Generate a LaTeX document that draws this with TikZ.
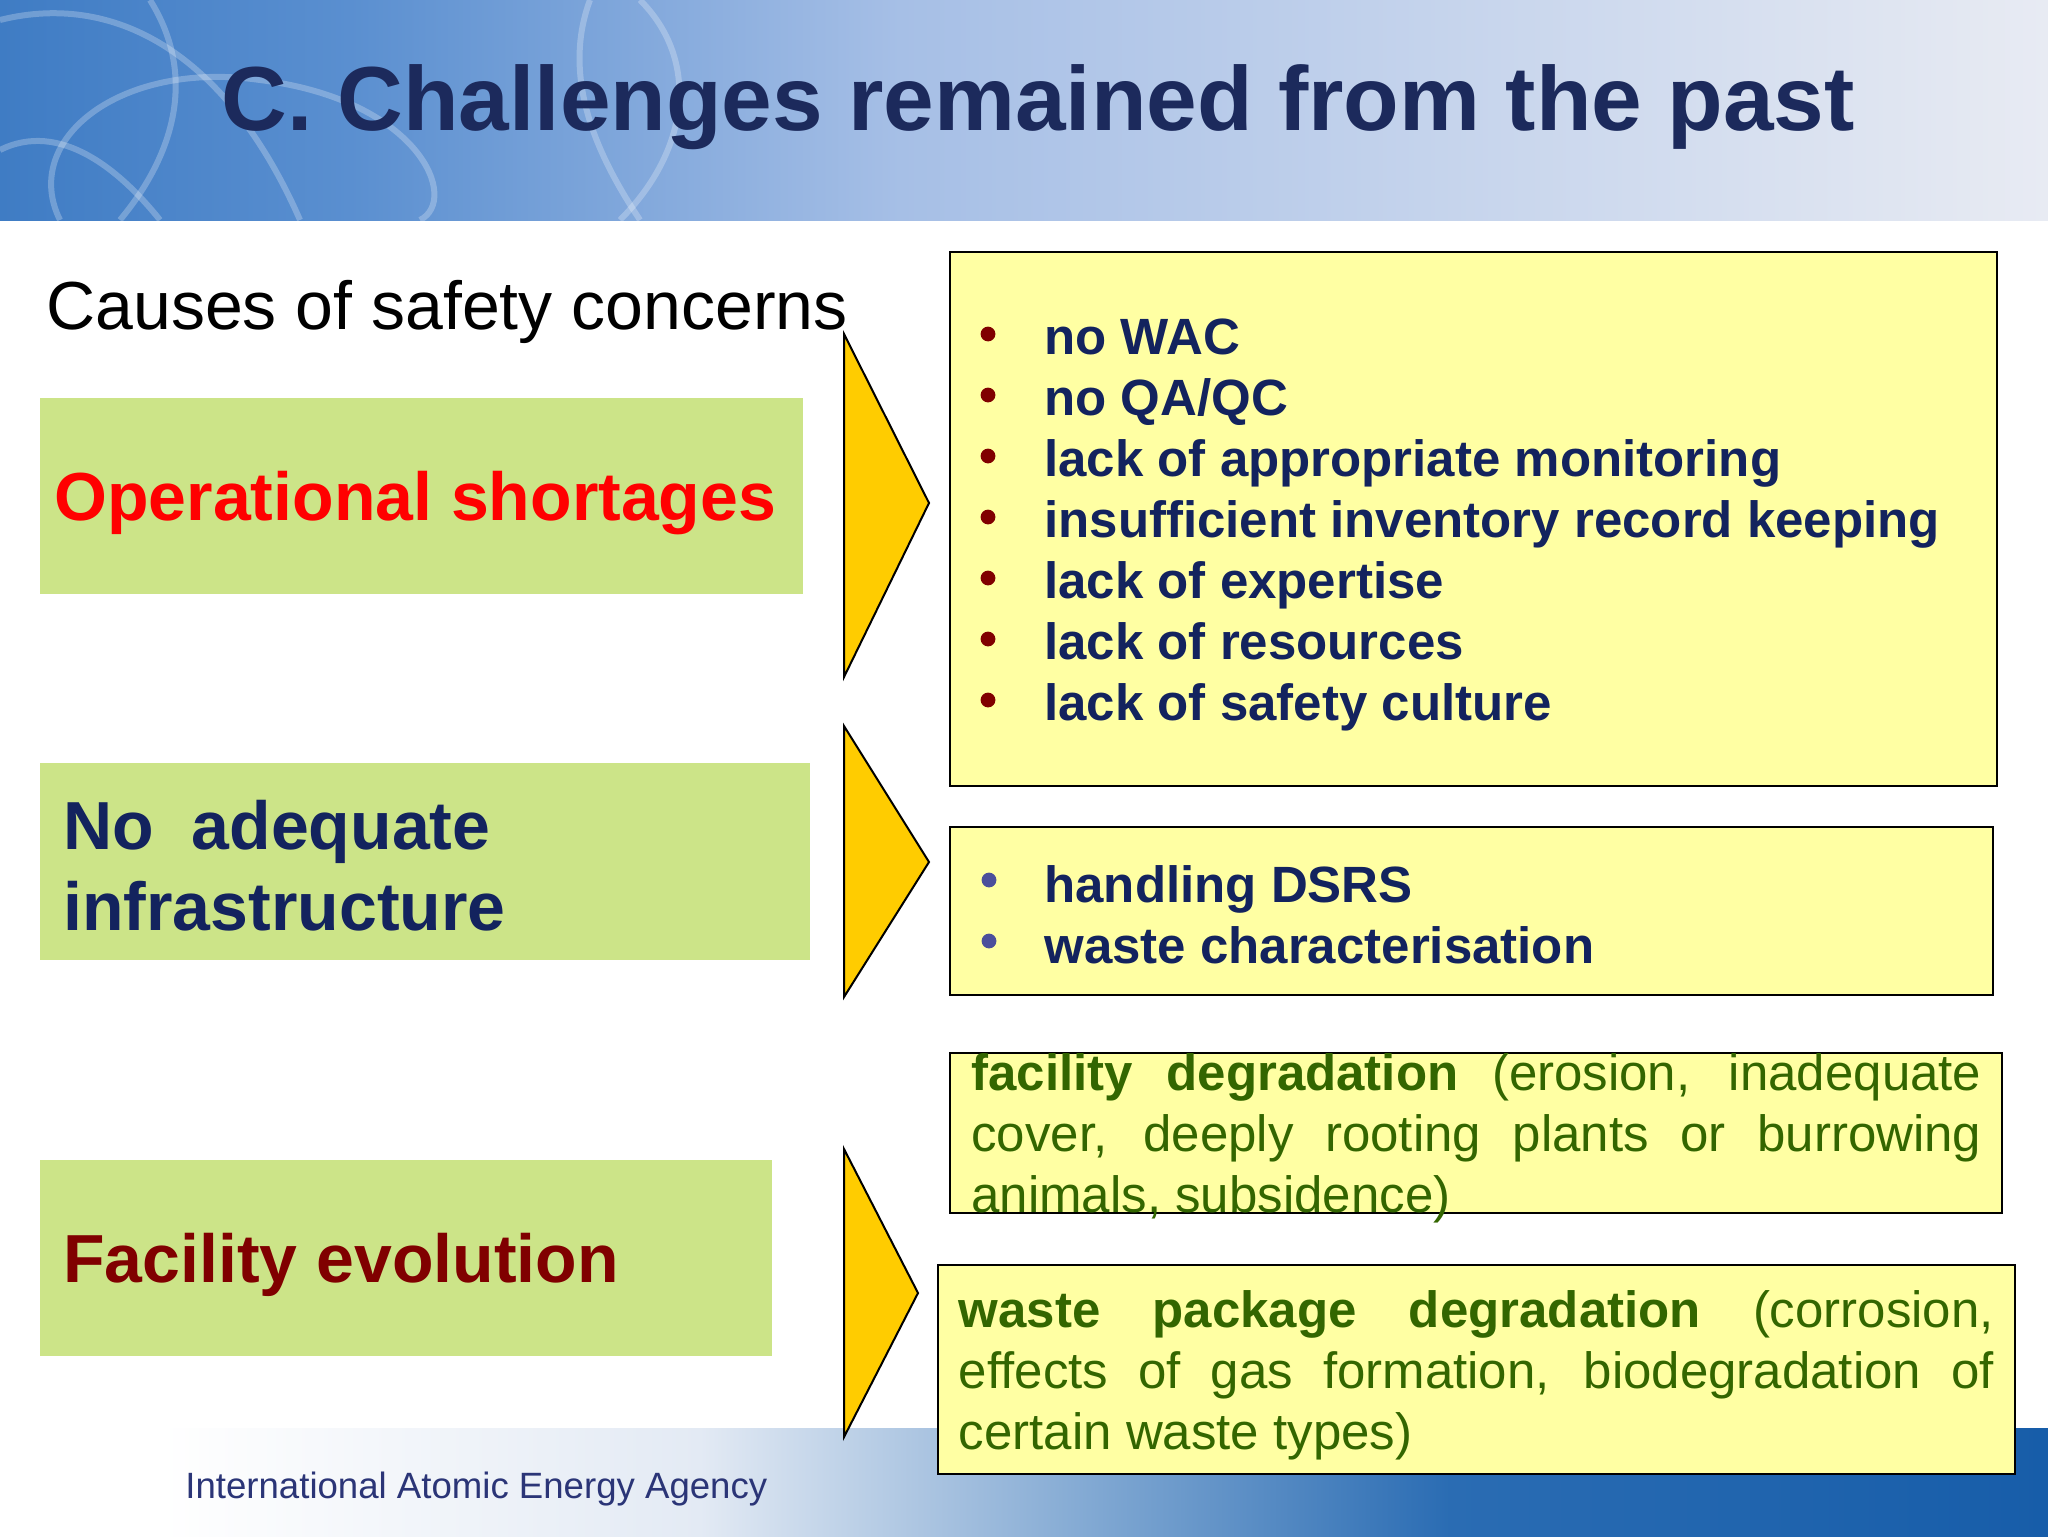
\documentclass[tikz,border=0pt]{standalone}
\usepackage{fontspec}
\setmainfont{Liberation Sans}
\usetikzlibrary{fit}
\definecolor{titlenavy}{HTML}{1C2A5C}
\definecolor{navy}{HTML}{13235E}
\definecolor{gfill}{HTML}{CCE488}
\definecolor{yfill}{HTML}{FFFFA3}
\definecolor{tyellow}{HTML}{FFCC00}
\definecolor{bred}{HTML}{800000}
\definecolor{bblue}{HTML}{4B4F9B}
\definecolor{dgreen}{HTML}{336600}
\definecolor{footnavy}{HTML}{2B3577}
\definecolor{tb1}{HTML}{3F7CC4}
\definecolor{tb2}{HTML}{5A8FD0}
\definecolor{tb3}{HTML}{A6BFE6}
\definecolor{tb4}{HTML}{E8EBF3}
\definecolor{fb1}{HTML}{E3EAF4}
\definecolor{fb2}{HTML}{7FA7D2}
\definecolor{fb3}{HTML}{2A6CB3}
\definecolor{fb4}{HTML}{175DA9}
\begin{document}
\begin{tikzpicture}[x=0.5pt,y=-0.5pt,
  gbox/.style={fill=gfill, draw=none, inner sep=0pt},
  ybox/.style={fill=yfill, draw=black, line width=1.1pt, inner sep=0pt},
  tri/.style={fill=tyellow, draw=black, line width=1pt, line join=miter},
  item/.style={anchor=base west, inner sep=0pt, text=navy, font=\fontsize{25.5pt}{30.5pt}\selectfont\bfseries},
  para/.style={anchor=north west, inner sep=0pt, align=justify, text=dgreen, font=\fontsize{25.5pt}{30.5pt}\selectfont},
  gtext/.style={anchor=base west, inner sep=0pt, font=\fontsize{34pt}{40pt}\selectfont\bfseries},
  swirl/.style={white, opacity=0.25, line width=3pt}
]
\useasboundingbox (0,0) rectangle (2048,1536);
\fill[white] (0,0) rectangle (2048,1536);
% title band
\shade[left color=tb1, right color=tb2] (0,0) rectangle (350,220);
\shade[left color=tb2, right color=tb3] (350,0) rectangle (900,220);
\shade[left color=tb3, right color=tb4] (900,0) rectangle (2048,220);
\draw[swirl] (0,20) .. controls (120,-10) and (230,60) .. (300,220);
\draw[swirl] (60,220) .. controls (20,140) and (120,60) .. (260,80) .. controls (420,100) and (460,200) .. (420,220);
\draw[swirl] (590,0) .. controls (560,80) and (600,160) .. (640,220);
\draw[swirl] (640,0) .. controls (700,60) and (690,150) .. (620,220);
\draw[swirl] (150,0) .. controls (200,80) and (170,160) .. (120,220);
\draw[swirl] (0,150) .. controls (60,120) and (120,170) .. (160,220);
\node[anchor=base, inner sep=0pt, text=titlenavy, font=\fontsize{45.5pt}{54pt}\selectfont\bfseries] (title) at (1038,131) {C. Challenges remained from the past};
% footer band
\fill[white] (0,1428) rectangle (160,1536);
\shade[left color=white, right color=fb1] (160,1428) rectangle (700,1536);
\shade[left color=fb1, right color=fb2] (700,1428) rectangle (1100,1536);
\shade[left color=fb2, right color=fb3] (1100,1428) rectangle (1450,1536);
\shade[left color=fb3, right color=fb4] (1450,1428) rectangle (2048,1536);
\node[anchor=base west, inner sep=0pt, text=footnavy, font=\fontsize{18.3pt}{22pt}\selectfont] (footer) at (185,1498) {International Atomic Energy Agency};
% heading
\node[anchor=base west, inner sep=0pt, font=\fontsize{34pt}{40pt}\selectfont] (causes) at (46,329) {Causes of safety concerns};
% green boxes
\node[gbox, fit={(40,398) (803,594)}] (g1) {};
\node[gbox, fit={(40,763) (810,960)}] (g2) {};
\node[gbox, fit={(40,1160) (772,1356)}] (g3) {};
\node[gtext, text=red] (g1t) at (54,520) {Operational shortages};
\node[gtext, text=navy] (g2t1) at (63,849) {No\ \ adequate};
\node[gtext, text=navy] (g2t2) at (63,930) {infrastructure};
\node[gtext, text=bred] (g3t) at (63,1282) {Facility evolution};
% triangles
\draw[tri] (844,334) -- (929,503) -- (844,677) -- cycle;
\draw[tri] (844,726) -- (929,862) -- (844,997) -- cycle;
\draw[tri] (844,1149) -- (918,1293) -- (844,1437) -- cycle;
% yellow boxes
\node[ybox, fit={(950,252) (1997,786)}] (y1) {};
\node[ybox, fit={(950,827) (1993,995)}] (y2) {};
\node[ybox, fit={(950,1053) (2002,1213)}] (y3) {};
\node[ybox, fit={(938,1265) (2015,1474)}] (y4) {};
% list 1
\foreach \t [count=\i] in {no WAC, no QA/QC, lack of appropriate monitoring, insufficient inventory record keeping, lack of expertise, lack of resources, lack of safety culture}{
  \fill[bred] (988,{334+61*(\i-1)}) circle (3.7pt);
  \node[item] (a\i) at (1044,{354+61*(\i-1)}) {\t};
}
% list 2
\foreach \t [count=\i] in {handling DSRS, waste characterisation}{
  \fill[bblue] (989,{880+61*(\i-1)}) circle (3.7pt);
  \node[item] (b\i) at (1044,{902+61*(\i-1)}) {\t};
}
% paragraphs
\node[para, text width=505pt] (p1) at (971,1047.3) {\strut\textbf{facility degradation} (erosion, inadequate\linebreak cover, deeply rooting plants or burrowing\linebreak animals, subsidence)};
\node[para, text width=517.5pt] (p2) at (958.5,1284.3) {\strut\textbf{waste package degradation} (corrosion,\linebreak effects of gas formation, biodegradation of\linebreak certain waste types)};
\end{tikzpicture}
\end{document}
